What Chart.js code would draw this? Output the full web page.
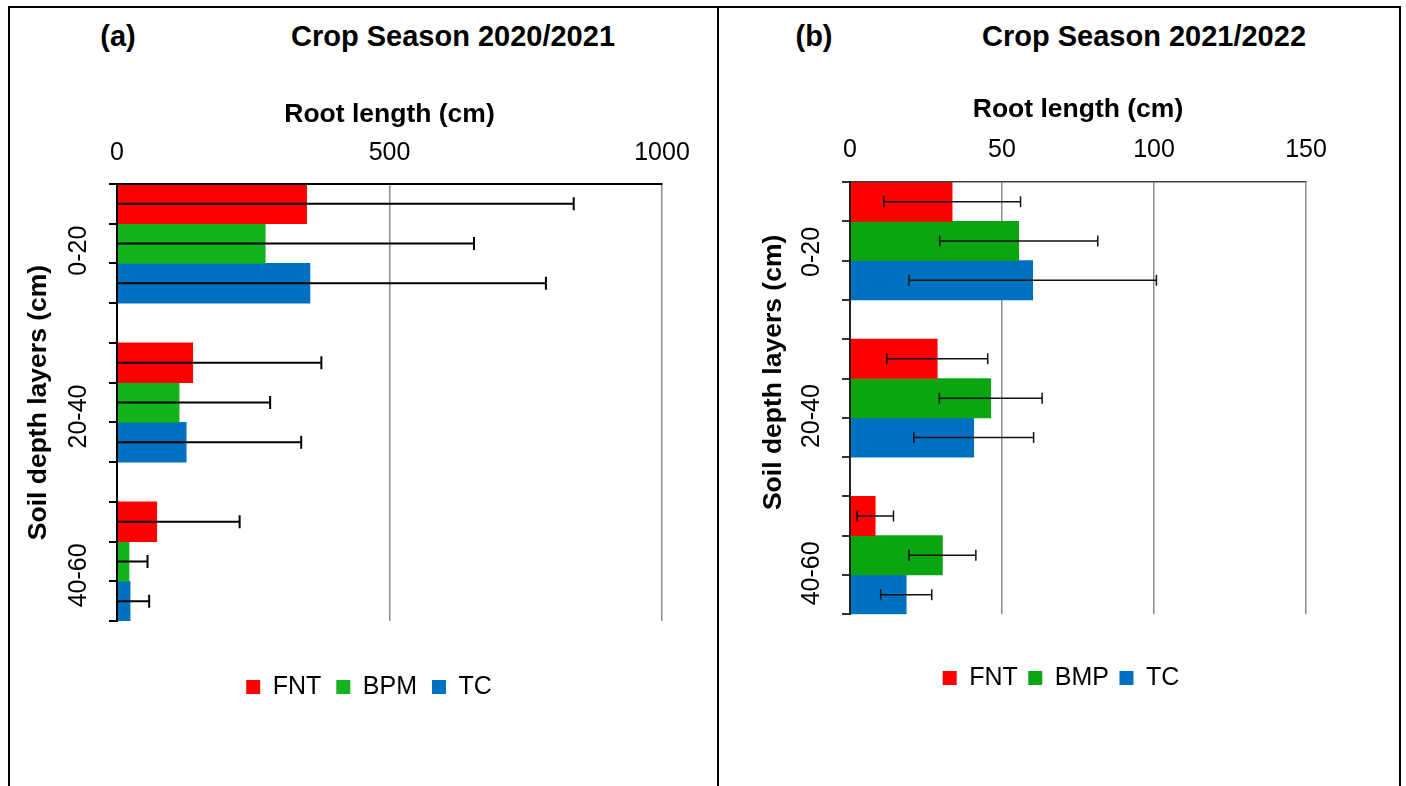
<!DOCTYPE html>
<html>
<head>
<meta charset="utf-8">
<title>Root length by soil depth layer</title>
<script src="https://cdn.jsdelivr.net/npm/chart.js"></script>
<style>
  html, body { margin: 0; padding: 0; background: #fff; }
  body { width: 1406px; height: 786px; position: relative; overflow: hidden; font-family: "Liberation Sans", Arial, sans-serif; }
  .line { position: absolute; background: #000; }
  .head { position: absolute; top: 22px; font-size: 29px; line-height: 29px; font-weight: bold; white-space: nowrap; transform: translateX(-50%); color: #000; }
  canvas { position: absolute; }
</style>
</head>
<body>
  <div class="line" style="left:8px; top:6px; width:1393px; height:2px;"></div>
  <div class="line" style="left:8px; top:6px; width:2px; height:780px;"></div>
  <div class="line" style="left:717px; top:6px; width:2px; height:780px;"></div>
  <div class="line" style="left:1399px; top:6px; width:2px; height:780px;"></div>

  <div class="head" style="left:118px;">(a)</div>
  <div class="head" style="left:453px;">Crop Season 2020/2021</div>
  <div class="head" style="left:814px;">(b)</div>
  <div class="head" style="left:1144px;">Crop Season 2021/2022</div>

  <canvas id="chartA" width="710" height="700" style="left:14px; top:70px;"></canvas>
  <canvas id="chartB" width="678" height="700" style="left:722px; top:70px;"></canvas>

<script>
Chart.defaults.font.family = '"Liberation Sans", Arial, sans-serif';
Chart.defaults.color = '#000';

const depths = ['0-20', '20-40', '40-60'];

// (a) crop season 2020/2021
const namesA = ['FNT', 'BPM', 'TC'];
const ticksA = [0, 500, 1000];
const fntA = [348, 139, 73];
const bpmA = [272, 114, 22];
const tcA = [354, 127, 24];
const fntErrA = [490, 236, 152];
const bpmErrA = [383, 167, 34];
const tcErrA = [433, 211, 35];

// (b) crop season 2021/2022
const namesB = ['FNT', 'BMP', 'TC'];
const ticksB = [0, 50, 100, 150];
const fntB = [33.6, 28.7, 8.3];
const bmpB = [55.5, 46.3, 30.4];
const tcB = [60.1, 40.7, 18.5];
const fntErrB = [22.5, 16.6, 6.0];
const bmpErrB = [26.0, 16.9, 11.0];
const tcErrB = [40.7, 19.7, 8.4];

// one row per bar, an empty row between depth groups, depth label on the middle bar
function rowLabels(groups, n) {
  const out = [];
  groups.forEach((g, i) => {
    for (let k = 0; k < n; k++) out.push(k === 1 ? g : '');
    if (i < groups.length - 1) out.push('');
  });
  return out;
}

function rowValues(values, slot, n) {
  const out = [];
  values.forEach((v, i) => {
    for (let k = 0; k < n; k++) out.push(k === slot ? v : null);
    if (i < values.length - 1) out.push(null);
  });
  return out;
}

const errorBarPlugin = {
  id: 'errorBars',
  afterDatasetsDraw(chart, args, opts) {
    const ctx = chart.ctx;
    const xs = chart.scales.x;
    ctx.save();
    ctx.strokeStyle = opts.color;
    ctx.lineWidth = opts.width;
    chart.data.datasets.forEach((ds, i) => {
      chart.getDatasetMeta(i).data.forEach((bar, j) => {
        const v = ds.data[j];
        if (v == null) return;
        const lo = v - ds.errors[j];
        const hi = v + ds.errors[j];
        const x1 = xs.getPixelForValue(Math.max(lo, 0));
        const x2 = xs.getPixelForValue(hi);
        const y = bar.y;
        ctx.beginPath();
        ctx.moveTo(x1, y);
        ctx.lineTo(x2, y);
        ctx.moveTo(x2, y - opts.cap);
        ctx.lineTo(x2, y + opts.cap);
        if (lo >= 0) {
          ctx.moveTo(x1, y - opts.cap);
          ctx.lineTo(x1, y + opts.cap);
        }
        ctx.stroke();
      });
    });
    ctx.restore();
  }
};

function drawPanel(canvasId, p) {
  const n = p.names.length;
  const datasets = p.names.map((name, s) => ({
    label: name,
    data: rowValues(p.values[s], s, n),
    errors: rowValues(p.errors[s], s, n),
    backgroundColor: p.colors[s],
    borderColor: p.colors[s],
    borderWidth: 0,
    grouped: false,
    barPercentage: 1,
    categoryPercentage: 1
  }));

  return new Chart(document.getElementById(canvasId), {
    type: 'bar',
    data: { labels: rowLabels(depths, n), datasets: datasets },
    options: {
      indexAxis: 'y',
      responsive: false,
      animation: false,
      layout: { padding: { left: 0, right: 0, top: 0, bottom: p.padBottom } },
      scales: {
        x: {
          position: 'top',
          min: 0,
          max: p.ticks[p.ticks.length - 1],
          afterBuildTicks: s => { s.ticks = p.ticks.map(v => ({ value: v })); },
          grid: { color: '#8c8c8c', lineWidth: 1.5, drawTicks: false },
          border: { color: p.topColor, width: p.topWidth, z: 1 },
          ticks: { padding: p.tickPad, font: { size: 25 }, callback: v => String(v) },
          title: { display: true, text: 'Root length (cm)', font: { size: 26.5, weight: 'bold' }, padding: { top: p.xTitlePad, bottom: 0 } },
          afterFit: s => { s.height = p.topH; }
        },
        y: {
          grid: { offset: true, drawOnChartArea: false, tickLength: 8, color: p.tickColor, lineWidth: 2 },
          border: { color: p.axisColor, width: 2, z: 1 },
          ticks: { autoSkip: false, minRotation: 90, maxRotation: 90, padding: 30, labelOffset: p.labelShift, font: { size: 25 } },
          title: { display: true, text: p.yTitle, font: { size: 26.5, weight: 'bold' }, padding: { top: p.yTitlePad, bottom: 0 } },
          afterFit: s => { s.width = p.axisW; }
        },
        pad: {
          type: 'linear',
          position: 'right',
          grid: { display: false },
          border: { display: false },
          ticks: { display: false },
          afterFit: s => { s.width = p.padW; }
        }
      },
      plugins: {
        legend: {
          position: 'bottom',
          labels: { boxWidth: 14, boxHeight: 14, padding: p.legendGap, font: { size: 25 } },
          title: { display: true, text: '', font: { size: 10 }, padding: { top: p.legendDrop, bottom: 0 } }
        },
        tooltip: { enabled: false },
        errorBars: p.err
      }
    },
    plugins: [errorBarPlugin]
  });
}

drawPanel('chartA', {
  names: namesA,
  values: [fntA, bpmA, tcA],
  errors: [fntErrA, bpmErrA, tcErrA],
  colors: ['#ff0000', '#12b31c', '#0070c0'],
  ticks: ticksA,
  yTitle: 'Soil depth layers (cm)',
  axisW: 103, padW: 62, topH: 114, padBottom: 60.5,
  labelShift: -18, yTitlePad: 9.1, xTitlePad: 29.1, tickPad: 15.5,
  legendGap: 15, legendDrop: 26.5,
  topColor: '#000', topWidth: 2, axisColor: '#000', tickColor: '#000',
  err: { color: '#000', width: 2, cap: 6.5 }
});

drawPanel('chartB', {
  names: namesB,
  values: [fntB, bmpB, tcB],
  errors: [fntErrB, bmpErrB, tcErrB],
  colors: ['#ff0000', '#0ba511', '#0070c0'],
  ticks: ticksB,
  yTitle: '\u00a0\u00a0\u00a0\u00a0\u00a0\u00a0\u00a0Soil depth layers (cm)',
  axisW: 128, padW: 94, topH: 112, padBottom: 69.5,
  labelShift: -14, yTitlePad: 36.1, xTitlePad: 24.1, tickPad: 17,
  legendGap: 10.5, legendDrop: 28.7,
  topColor: '#404040', topWidth: 1.5, axisColor: '#222', tickColor: '#333',
  err: { color: '#111', width: 1.5, cap: 5.5 }
});
</script>
</body>
</html>
